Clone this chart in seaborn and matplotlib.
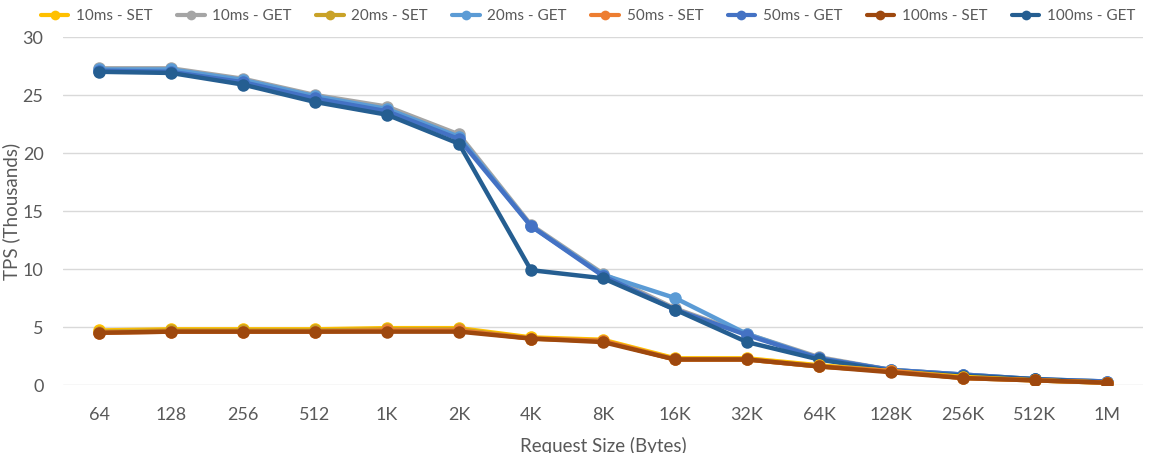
#%%
# TPS vs request size, GET/SET for several latencies

import pandas as pd
import seaborn as sns
import matplotlib.pyplot as plt

sizes = ["64", "128", "256", "512", "1K", "2K", "4K", "8K", "16K", "32K",
         "64K", "128K", "256K", "512K", "1M"]

# TPS in thousands
get_10ms = [27.3, 27.3, 26.4, 25.0, 24.0, 21.6, 13.8, 9.6, 6.6, 4.4, 2.4, 1.3, 0.9, 0.5, 0.3]
get_20ms = [27.2, 27.2, 26.3, 24.9, 23.8, 21.4, 13.7, 9.5, 7.5, 4.4, 2.3, 1.3, 0.9, 0.5, 0.3]
get_50ms = [27.1, 27.0, 26.1, 24.7, 23.6, 21.2, 13.7, 9.4, 6.5, 4.3, 2.3, 1.3, 0.9, 0.5, 0.3]
get_100ms = [27.0, 26.9, 25.9, 24.4, 23.3, 20.8, 9.9, 9.2, 6.5, 3.7, 2.2, 1.2, 0.8, 0.5, 0.2]
set_10ms = [4.7, 4.8, 4.8, 4.8, 4.9, 4.9, 4.1, 3.9, 2.3, 2.3, 1.7, 1.2, 0.7, 0.4, 0.2]
set_20ms = [4.6, 4.7, 4.7, 4.7, 4.8, 4.8, 4.0, 3.8, 2.2, 2.2, 1.6, 1.2, 0.6, 0.4, 0.2]
set_50ms = [4.5, 4.6, 4.6, 4.6, 4.7, 4.7, 4.0, 3.8, 2.2, 2.2, 1.6, 1.2, 0.6, 0.4, 0.2]
set_100ms = [4.5, 4.6, 4.6, 4.6, 4.6, 4.6, 4.0, 3.7, 2.2, 2.2, 1.6, 1.1, 0.6, 0.4, 0.2]

legend_order = ["10ms - SET", "10ms - GET", "20ms - SET", "20ms - GET",
                "50ms - SET", "50ms - GET", "100ms - SET", "100ms - GET"]
# drawing order: blues first, then the SET lines on top
draw_order = ["10ms - GET", "20ms - GET", "50ms - GET", "100ms - GET",
              "10ms - SET", "20ms - SET", "50ms - SET", "100ms - SET"]
series = {
    "10ms - GET": get_10ms, "20ms - GET": get_20ms,
    "50ms - GET": get_50ms, "100ms - GET": get_100ms,
    "10ms - SET": set_10ms, "20ms - SET": set_20ms,
    "50ms - SET": set_50ms, "100ms - SET": set_100ms,
}
colors = {
    "10ms - GET": "#A5A5A5", "20ms - GET": "#5B9BD5",
    "50ms - GET": "#4472C4", "100ms - GET": "#255E91",
    "10ms - SET": "#FFC000", "20ms - SET": "#C9A227",
    "50ms - SET": "#ED7D31", "100ms - SET": "#9E480E",
}

rows = []
for name in draw_order:
    for s, v in zip(sizes, series[name]):
        rows.append({"size": s, "tps": v, "series": name})
df = pd.DataFrame(rows)

sns.set_style("white")
plt.rcParams["font.family"] = ["Lato", "DejaVu Sans"]

fig = plt.figure(figsize=(11.53, 4.53), dpi=100)
ax = fig.add_axes([63 / 1153, 1 - 385 / 453, 1080 / 1153, 348 / 453])

sns.lineplot(data=df, x="size", y="tps", hue="series", hue_order=draw_order,
             palette=colors, marker="o", markersize=9, linewidth=3.2,
             markeredgewidth=0, sort=False, ax=ax, legend=False)

ax.set_xlim(-0.5, len(sizes) - 0.5)
ax.set_ylim(0, 30)
ax.set_yticks([0, 5, 10, 15, 20, 25, 30])
ax.grid(axis="y", color="#D9D9D9", linewidth=1)
ax.set_axisbelow(True)
for sp in ax.spines.values():
    sp.set_visible(False)
ax.tick_params(axis="both", length=0, labelsize=13, labelcolor="#595959")
ax.tick_params(axis="x", pad=16)
ax.tick_params(axis="y", pad=14)
ax.set_xlabel("Request Size (Bytes)", fontsize=13.5, color="#595959", labelpad=10)
ax.set_ylabel("TPS (Thousands)", fontsize=13.5, color="#595959")
ax.yaxis.set_label_coords(-0.04, 0.5)

# legend row along the top edge
handles = [plt.Line2D([], [], color=colors[n], lw=3, marker="o", ms=7, mew=0)
           for n in legend_order]
fig.legend(handles, legend_order, loc="upper center", ncol=8,
           bbox_to_anchor=(0.51, 1.01), frameon=False, fontsize=11,
           labelcolor="#595959", columnspacing=1.6, handlelength=1.8,
           handletextpad=0.5)

fig.savefig("out.png", dpi=100)
